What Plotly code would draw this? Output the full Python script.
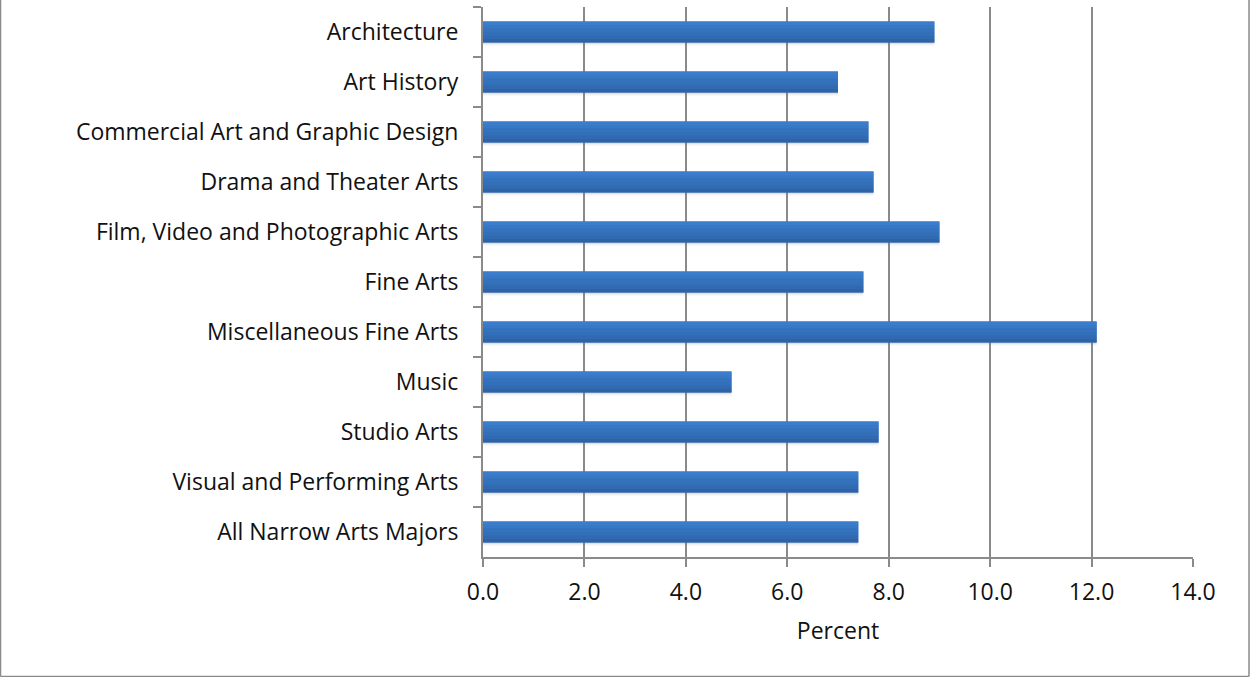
import plotly.graph_objects as go

# Share of majors (percent) by arts field
majors = [
    "Architecture",
    "Art History",
    "Commercial Art and Graphic Design",
    "Drama and Theater Arts",
    "Film, Video and Photographic Arts",
    "Fine Arts",
    "Miscellaneous Fine Arts",
    "Music",
    "Studio Arts",
    "Visual and Performing Arts",
    "All Narrow Arts Majors",
]
percent = [8.9, 7.0, 7.6, 7.7, 9.0, 7.5, 12.1, 4.9, 7.8, 7.4, 7.4]
x_ticks = [0, 2, 4, 6, 8, 10, 12, 14]
x_tick_text = [f"{v:.1f}" for v in x_ticks]

FONT = "'Open Sans', Lato, sans-serif"
GRID = "#8a8a8a"

W, H = 1250, 677
L, R, T, B = 483, 57, 7, 120
PW, PH = W - L - R, H - T - B

BAR_W = 0.42
fig = go.Figure()

# soft drop shadow under each bar
for off, col in [(0.0, "rgba(120,120,120,0.10)"), (0.03, "rgba(120,120,120,0.12)")]:
    fig.add_trace(go.Bar(
        y=majors, x=percent, orientation="h",
        width=0.1 - off, offset=BAR_W / 2 - 0.04,
        marker=dict(color=col, line=dict(width=0)),
        hoverinfo="skip", showlegend=False,
    ))

# solid base bar
fig.add_trace(go.Bar(
    y=majors, x=percent, orientation="h",
    width=BAR_W, offset=-BAR_W / 2,
    marker=dict(color="#3572bd", line=dict(width=0)),
    hovertemplate="%{y}: %{x:.1f}<extra></extra>",
    showlegend=False,
))

# shading bands laid over the base for a light-to-dark vertical gradient
bands = ["#3b7dcc", "#3879c6", "#3572bd", "#3270b9", "#316ab0", "#2e63a5"]
h = BAR_W / len(bands)
for k, c in enumerate(bands):
    fig.add_trace(go.Bar(
        y=majors, x=percent, orientation="h",
        width=h, offset=-BAR_W / 2 + k * h,
        marker=dict(color=c, line=dict(width=0)),
        hoverinfo="skip", showlegend=False,
    ))

# outer chart frame (left, right, bottom edges)
fx0 = (0.5 - L) / PW
fx1 = (W - 1 - L) / PW
fy0 = (PH - (H - T - 0.5)) / PH
fy1 = (PH + T) / PH
for x0, y0, x1, y1 in [(fx0, fy0, fx0, fy1), (fx1, fy0, fx1, fy1), (fx0, fy0, fx1, fy0)]:
    fig.add_shape(type="line", xref="paper", yref="paper",
                  x0=x0, y0=y0, x1=x1, y1=y1,
                  line=dict(color="#8a8a8a", width=1.5), layer="above")

fig.update_layout(
    width=W, height=H,
    margin=dict(l=L, r=R, t=T, b=B),
    plot_bgcolor="white", paper_bgcolor="white",
    barmode="overlay",
    font=dict(family=FONT, size=23, color="#111111"),
    xaxis=dict(
        range=[0, 14],
        tickvals=x_ticks, ticktext=x_tick_text,
        showgrid=True, gridcolor=GRID, gridwidth=2,
        zeroline=False,
        showline=True, linecolor=GRID, linewidth=2,
        ticks="outside", ticklen=8, tickwidth=2, tickcolor=GRID,
        ticklabelstandoff=5,
        title=dict(text="Percent", font=dict(size=23), standoff=17),
    ),
    yaxis=dict(
        categoryorder="array", categoryarray=majors,
        autorange="reversed",
        showgrid=False, zeroline=False,
        showline=True, linecolor=GRID, linewidth=2,
        ticks="outside", ticklen=8, tickwidth=2, tickcolor=GRID,
        tickson="boundaries",
        ticklabelstandoff=18,
    ),
)

fig.write_html("out.html")
